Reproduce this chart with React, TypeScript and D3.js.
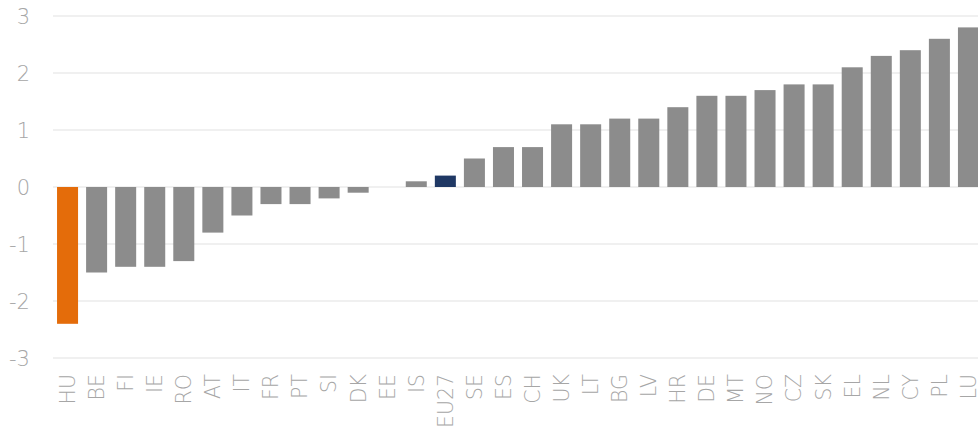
import * as d3 from 'd3'

const countries = [
  'HU', 'BE', 'FI', 'IE', 'RO', 'AT', 'IT', 'FR', 'PT', 'SI', 'DK', 'EE', 'IS', 'EU27', 'SE', 'ES',
  'CH', 'UK', 'LT', 'BG', 'LV', 'HR', 'DE', 'MT', 'NO', 'CZ', 'SK', 'EL', 'NL', 'CY', 'PL', 'LU',
]
const values = [
  -2.4, -1.5, -1.4, -1.4, -1.3, -0.8, -0.5, -0.3, -0.3, -0.2, -0.1, 0, 0.1, 0.2, 0.5, 0.7,
  0.7, 1.1, 1.1, 1.2, 1.2, 1.4, 1.6, 1.6, 1.7, 1.8, 1.8, 2.1, 2.3, 2.4, 2.6, 2.8,
]
const yTicks = [-3, -2, -1, 0, 1, 2, 3]

const width = 978
const height = 428
const font = '"DejaVu Sans", sans-serif'

function barColor(c: string) {
  if (c === 'HU') return '#e46c0a'
  if (c === 'EU27') return '#1f3864'
  return '#8c8c8c'
}

export default function App() {
  const x = d3
    .scaleBand<string>()
    .domain(countries)
    .range([53, 983])
    .paddingInner(0.277)
    .paddingOuter(0.139)

  const y = d3.scaleLinear().domain([-3, 3]).range([358, 16])

  return (
    <svg
      width={width}
      height={height}
      style={{ position: 'absolute', left: 0, top: 0, background: '#fff' }}
    >
      {/* gridlines */}
      {yTicks.map(t => (
        <line
          key={'g' + t}
          x1={53}
          x2={width}
          y1={y(t)}
          y2={y(t)}
          stroke="#ebebeb"
          strokeWidth={1.5}
        />
      ))}

      {/* y tick labels */}
      {yTicks.map(t => (
        <text
          key={'t' + t}
          x={30}
          y={y(t)}
          dy="0.36em"
          textAnchor="end"
          fontFamily={font}
          fontWeight={200}
          fontSize={21}
          fill="#a6a6a6"
        >
          {t}
        </text>
      ))}

      {/* bars */}
      {countries.map((c, i) => {
        const v = values[i]
        return (
          <rect
            key={c}
            x={x(c)!}
            width={x.bandwidth()}
            y={Math.min(y(v), y(0))}
            height={Math.abs(y(v) - y(0))}
            fill={barColor(c)}
          />
        )
      })}

      {/* x labels */}
      {countries.map(c => {
        const cx = x(c)! + x.bandwidth() / 2
        return (
          <text
            key={'l' + c}
            transform={`translate(${cx},374) rotate(-90)`}
            dy="0.36em"
            textAnchor="end"
            fontFamily={font}
            fontWeight={200}
            fontSize={20.5}
            fill="#a6a6a6"
          >
            {c}
          </text>
        )
      })}
    </svg>
  )
}
